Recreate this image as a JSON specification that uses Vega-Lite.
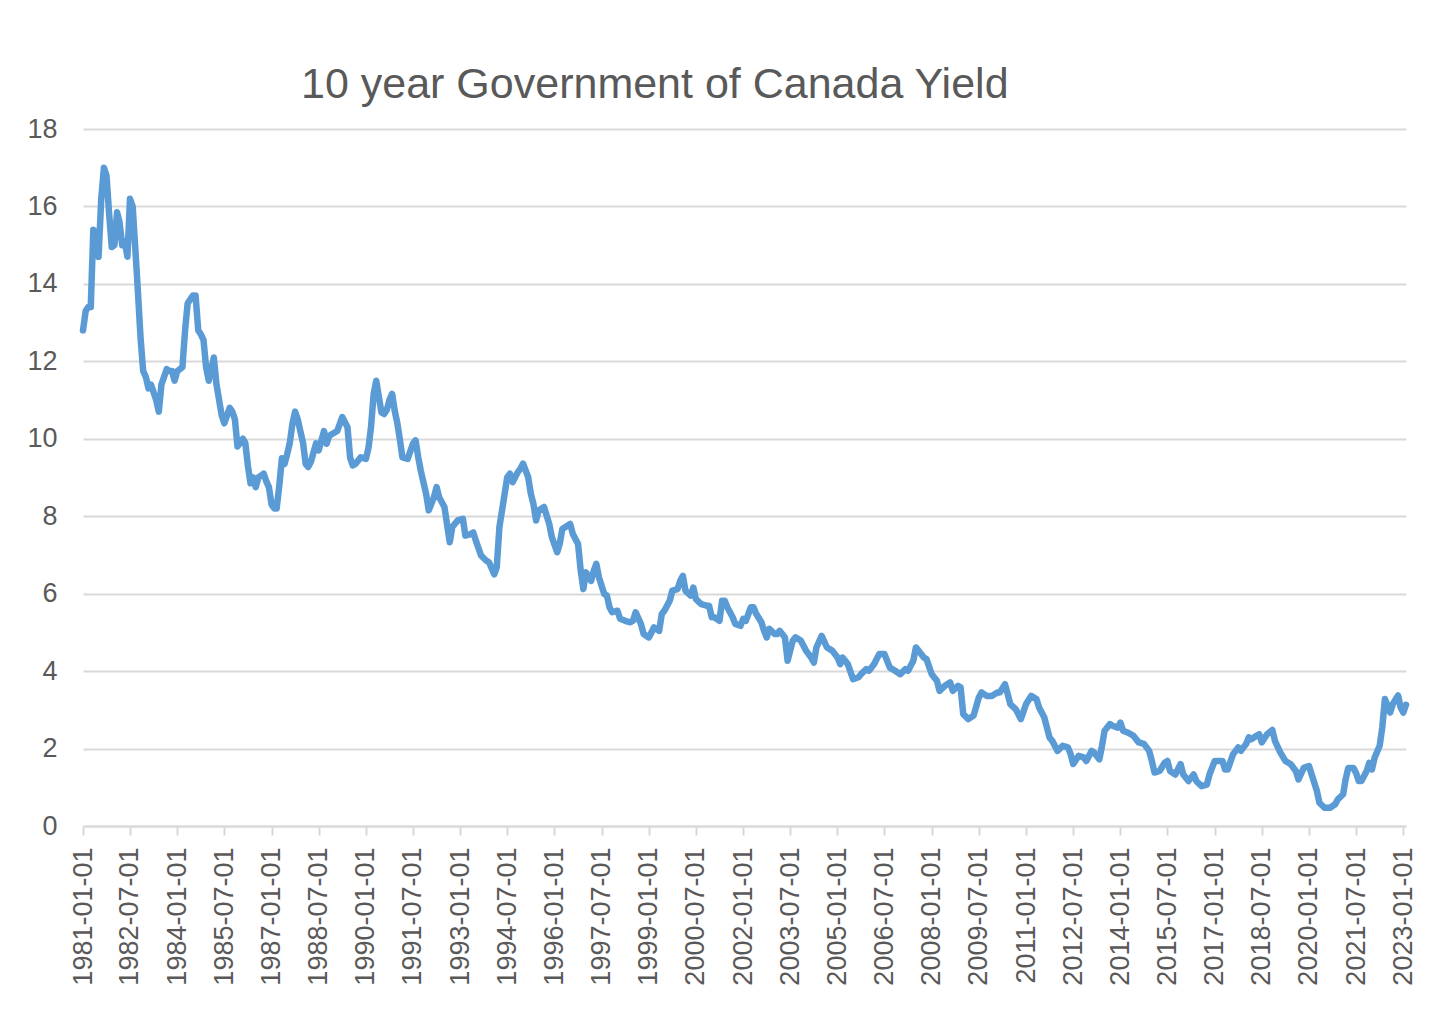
{
  "$schema": "https://vega.github.io/schema/vega-lite/v6.json",
  "width": 1323,
  "height": 697,
  "autosize": "none",
  "padding": {"left": 83, "top": 129, "right": 39, "bottom": 185},
  "background": "white",
  "title": {"text": "10 year Government of Canada Yield", "anchor": "start", "frame": "group", "dx": 218, "dy": 40, "offset": 14, "baseline": "alphabetic", "font": "Liberation Sans", "fontSize": 43, "fontWeight": "normal", "color": "#595959"},
  "config": {"view": {"stroke": null}, "font": "Liberation Sans"},
  "data": {"values": [
    {"d":"1981-01-01","v":12.8},{"d":"1981-02-01","v":13.3},{"d":"1981-03-01","v":13.4},{"d":"1981-04-01","v":13.4},{"d":"1981-05-01","v":15.4},{"d":"1981-06-01","v":15.3},{"d":"1981-07-01","v":14.7},{"d":"1981-08-01","v":16.2},{"d":"1981-09-01","v":17.0},{"d":"1981-10-01","v":16.8},{"d":"1981-11-01","v":15.8},{"d":"1981-12-01","v":14.95},
    {"d":"1982-01-01","v":15.0},{"d":"1982-02-01","v":15.85},{"d":"1982-03-01","v":15.6},{"d":"1982-04-01","v":15.0},{"d":"1982-05-01","v":15.1},{"d":"1982-06-01","v":14.7},{"d":"1982-07-01","v":16.2},{"d":"1982-08-01","v":16.0},{"d":"1982-09-01","v":14.9},{"d":"1982-10-01","v":13.8},{"d":"1982-11-01","v":12.6},{"d":"1982-12-01","v":11.75},
    {"d":"1983-01-01","v":11.6},{"d":"1983-02-01","v":11.3},{"d":"1983-03-01","v":11.4},{"d":"1983-04-01","v":11.2},{"d":"1983-05-01","v":11.0},{"d":"1983-06-01","v":10.7},{"d":"1983-07-01","v":11.4},{"d":"1983-08-01","v":11.6},{"d":"1983-09-01","v":11.8},{"d":"1983-10-01","v":11.75},{"d":"1983-11-01","v":11.75},{"d":"1983-12-01","v":11.5},
    {"d":"1984-01-01","v":11.75},{"d":"1984-02-01","v":11.8},{"d":"1984-03-01","v":11.85},{"d":"1984-04-01","v":12.8},{"d":"1984-05-01","v":13.5},{"d":"1984-06-01","v":13.6},{"d":"1984-07-01","v":13.7},{"d":"1984-08-01","v":13.7},{"d":"1984-09-01","v":12.8},{"d":"1984-10-01","v":12.7},{"d":"1984-11-01","v":12.55},{"d":"1984-12-01","v":11.85},
    {"d":"1985-01-01","v":11.5},{"d":"1985-02-01","v":11.8},{"d":"1985-03-01","v":12.1},{"d":"1985-04-01","v":11.4},{"d":"1985-05-01","v":11.0},{"d":"1985-06-01","v":10.6},{"d":"1985-07-01","v":10.4},{"d":"1985-08-01","v":10.6},{"d":"1985-09-01","v":10.8},{"d":"1985-10-01","v":10.7},{"d":"1985-11-01","v":10.5},{"d":"1985-12-01","v":9.8},
    {"d":"1986-01-01","v":9.9},{"d":"1986-02-01","v":10.0},{"d":"1986-03-01","v":9.9},{"d":"1986-04-01","v":9.3},{"d":"1986-05-01","v":8.85},{"d":"1986-06-01","v":9.0},{"d":"1986-07-01","v":8.75},{"d":"1986-08-01","v":9.0},{"d":"1986-09-01","v":9.05},{"d":"1986-10-01","v":9.1},{"d":"1986-11-01","v":8.9},{"d":"1986-12-01","v":8.75},
    {"d":"1987-01-01","v":8.3},{"d":"1987-02-01","v":8.2},{"d":"1987-03-01","v":8.2},{"d":"1987-04-01","v":8.8},{"d":"1987-05-01","v":9.5},{"d":"1987-06-01","v":9.35},{"d":"1987-07-01","v":9.6},{"d":"1987-08-01","v":9.9},{"d":"1987-09-01","v":10.4},{"d":"1987-10-01","v":10.7},{"d":"1987-11-01","v":10.5},{"d":"1987-12-01","v":10.2},
    {"d":"1988-01-01","v":9.9},{"d":"1988-02-01","v":9.35},{"d":"1988-03-01","v":9.27},{"d":"1988-04-01","v":9.4},{"d":"1988-06-01","v":9.88},{"d":"1988-07-01","v":9.7},{"d":"1988-09-01","v":10.2},{"d":"1988-10-01","v":9.87},{"d":"1988-11-01","v":10.08},
    {"d":"1989-02-01","v":10.2},{"d":"1989-04-01","v":10.56},{"d":"1989-06-01","v":10.3},{"d":"1989-07-01","v":9.52},{"d":"1989-08-01","v":9.31},{"d":"1989-09-01","v":9.35},{"d":"1989-11-01","v":9.52},
    {"d":"1990-01-01","v":9.48},{"d":"1990-02-01","v":9.78},{"d":"1990-03-01","v":10.3},{"d":"1990-04-01","v":11.16},{"d":"1990-05-01","v":11.5},{"d":"1990-06-01","v":11.07},{"d":"1990-07-01","v":10.68},{"d":"1990-08-01","v":10.64},{"d":"1990-09-01","v":10.75},{"d":"1990-10-01","v":11.0},{"d":"1990-11-01","v":11.16},{"d":"1990-12-01","v":10.73},
    {"d":"1991-01-01","v":10.4},{"d":"1991-02-01","v":9.96},{"d":"1991-03-01","v":9.52},{"d":"1991-05-01","v":9.48},{"d":"1991-07-01","v":9.87},{"d":"1991-08-01","v":9.96},{"d":"1991-09-01","v":9.52},{"d":"1991-10-01","v":9.17},{"d":"1991-12-01","v":8.58},
    {"d":"1992-01-01","v":8.15},{"d":"1992-03-01","v":8.49},{"d":"1992-04-01","v":8.75},{"d":"1992-05-01","v":8.49},{"d":"1992-07-01","v":8.24},{"d":"1992-09-01","v":7.33},{"d":"1992-10-01","v":7.72},{"d":"1992-12-01","v":7.89},
    {"d":"1993-02-01","v":7.93},{"d":"1993-03-01","v":7.5},{"d":"1993-05-01","v":7.54},{"d":"1993-06-01","v":7.58},{"d":"1993-07-01","v":7.37},{"d":"1993-09-01","v":6.98},{"d":"1993-11-01","v":6.85},{"d":"1993-12-01","v":6.81},
    {"d":"1994-02-01","v":6.5},{"d":"1994-03-01","v":6.68},{"d":"1994-04-01","v":7.72},{"d":"1994-06-01","v":8.58},{"d":"1994-07-01","v":9.01},{"d":"1994-08-01","v":9.1},{"d":"1994-09-01","v":8.88},{"d":"1994-11-01","v":9.14},{"d":"1994-12-01","v":9.23},
    {"d":"1995-01-01","v":9.36},{"d":"1995-03-01","v":9.01},{"d":"1995-04-01","v":8.58},{"d":"1995-05-01","v":8.32},{"d":"1995-06-01","v":7.89},{"d":"1995-07-01","v":8.15},{"d":"1995-09-01","v":8.24},{"d":"1995-11-01","v":7.8},{"d":"1995-12-01","v":7.46},
    {"d":"1996-02-01","v":7.07},{"d":"1996-03-01","v":7.28},{"d":"1996-04-01","v":7.67},{"d":"1996-07-01","v":7.8},{"d":"1996-08-01","v":7.54},{"d":"1996-10-01","v":7.28},{"d":"1996-11-01","v":6.59},{"d":"1996-12-01","v":6.12},
    {"d":"1997-01-01","v":6.55},{"d":"1997-03-01","v":6.33},{"d":"1997-04-01","v":6.59},{"d":"1997-05-01","v":6.77},{"d":"1997-06-01","v":6.42},{"d":"1997-08-01","v":5.99},{"d":"1997-09-01","v":5.95},{"d":"1997-10-01","v":5.65},{"d":"1997-11-01","v":5.52},
    {"d":"1998-01-01","v":5.56},{"d":"1998-02-01","v":5.35},{"d":"1998-04-01","v":5.3},{"d":"1998-06-01","v":5.26},{"d":"1998-07-01","v":5.3},{"d":"1998-08-01","v":5.52},{"d":"1998-10-01","v":5.22},{"d":"1998-11-01","v":4.96},
    {"d":"1999-01-01","v":4.87},{"d":"1999-02-01","v":5.0},{"d":"1999-03-01","v":5.13},{"d":"1999-05-01","v":5.04},{"d":"1999-06-01","v":5.48},{"d":"1999-07-01","v":5.56},{"d":"1999-09-01","v":5.82},{"d":"1999-10-01","v":6.08},{"d":"1999-12-01","v":6.12},
    {"d":"2000-01-01","v":6.33},{"d":"2000-02-01","v":6.46},{"d":"2000-03-01","v":6.08},{"d":"2000-05-01","v":5.95},{"d":"2000-06-01","v":6.16},{"d":"2000-07-01","v":5.86},{"d":"2000-09-01","v":5.73},{"d":"2000-11-01","v":5.69},{"d":"2000-12-01","v":5.69},
    {"d":"2001-01-01","v":5.39},{"d":"2001-02-01","v":5.39},{"d":"2001-04-01","v":5.3},{"d":"2001-05-01","v":5.82},{"d":"2001-06-01","v":5.82},{"d":"2001-07-01","v":5.65},{"d":"2001-09-01","v":5.39},{"d":"2001-10-01","v":5.22},{"d":"2001-12-01","v":5.17},
    {"d":"2002-01-01","v":5.35},{"d":"2002-02-01","v":5.3},{"d":"2002-04-01","v":5.65},{"d":"2002-05-01","v":5.65},{"d":"2002-06-01","v":5.48},{"d":"2002-08-01","v":5.26},{"d":"2002-09-01","v":5.04},{"d":"2002-10-01","v":4.87},{"d":"2002-11-01","v":5.09},
    {"d":"2003-01-01","v":4.96},{"d":"2003-02-01","v":4.96},{"d":"2003-03-01","v":5.04},{"d":"2003-05-01","v":4.87},{"d":"2003-06-01","v":4.27},{"d":"2003-08-01","v":4.79},{"d":"2003-09-01","v":4.87},{"d":"2003-11-01","v":4.79},
    {"d":"2004-01-01","v":4.53},{"d":"2004-03-01","v":4.35},{"d":"2004-04-01","v":4.22},{"d":"2004-05-01","v":4.61},{"d":"2004-07-01","v":4.91},{"d":"2004-09-01","v":4.61},{"d":"2004-11-01","v":4.53},
    {"d":"2005-01-01","v":4.35},{"d":"2005-02-01","v":4.18},{"d":"2005-03-01","v":4.35},{"d":"2005-05-01","v":4.18},{"d":"2005-07-01","v":3.79},{"d":"2005-09-01","v":3.84},{"d":"2005-10-01","v":3.92},{"d":"2005-12-01","v":4.05},
    {"d":"2006-01-01","v":4.01},{"d":"2006-03-01","v":4.18},{"d":"2006-05-01","v":4.44},{"d":"2006-07-01","v":4.44},{"d":"2006-09-01","v":4.09},{"d":"2006-11-01","v":4.01},
    {"d":"2007-01-01","v":3.92},{"d":"2007-03-01","v":4.05},{"d":"2007-04-01","v":4.01},{"d":"2007-06-01","v":4.27},{"d":"2007-07-01","v":4.61},{"d":"2007-08-01","v":4.53},{"d":"2007-10-01","v":4.35},{"d":"2007-11-01","v":4.31},
    {"d":"2008-01-01","v":3.92},{"d":"2008-03-01","v":3.75},{"d":"2008-04-01","v":3.49},{"d":"2008-06-01","v":3.62},{"d":"2008-08-01","v":3.71},{"d":"2008-09-01","v":3.49},{"d":"2008-11-01","v":3.62},{"d":"2008-12-01","v":3.58},
    {"d":"2009-01-01","v":2.89},{"d":"2009-03-01","v":2.76},{"d":"2009-05-01","v":2.85},{"d":"2009-07-01","v":3.32},{"d":"2009-08-01","v":3.45},{"d":"2009-10-01","v":3.36},{"d":"2009-12-01","v":3.36},
    {"d":"2010-02-01","v":3.45},{"d":"2010-03-01","v":3.45},{"d":"2010-05-01","v":3.66},{"d":"2010-06-01","v":3.41},{"d":"2010-07-01","v":3.15},{"d":"2010-09-01","v":3.02},{"d":"2010-10-01","v":2.9},{"d":"2010-11-01","v":2.76},
    {"d":"2011-01-01","v":3.15},{"d":"2011-03-01","v":3.36},{"d":"2011-05-01","v":3.28},{"d":"2011-06-01","v":3.06},{"d":"2011-08-01","v":2.8},{"d":"2011-10-01","v":2.28},{"d":"2011-11-01","v":2.2},
    {"d":"2012-01-01","v":1.94},{"d":"2012-03-01","v":2.07},{"d":"2012-05-01","v":2.03},{"d":"2012-06-01","v":1.86},{"d":"2012-07-01","v":1.6},{"d":"2012-09-01","v":1.81},{"d":"2012-11-01","v":1.77},{"d":"2012-12-01","v":1.68},
    {"d":"2013-02-01","v":1.94},{"d":"2013-03-01","v":1.9},{"d":"2013-05-01","v":1.72},{"d":"2013-06-01","v":2.07},{"d":"2013-07-01","v":2.46},{"d":"2013-09-01","v":2.63},{"d":"2013-10-01","v":2.59},{"d":"2013-12-01","v":2.54},
    {"d":"2014-01-01","v":2.67},{"d":"2014-02-01","v":2.46},{"d":"2014-04-01","v":2.41},{"d":"2014-06-01","v":2.33},{"d":"2014-08-01","v":2.16},{"d":"2014-10-01","v":2.12},{"d":"2014-12-01","v":1.94},
    {"d":"2015-01-01","v":1.68},{"d":"2015-02-01","v":1.38},{"d":"2015-04-01","v":1.42},{"d":"2015-06-01","v":1.64},{"d":"2015-07-01","v":1.68},{"d":"2015-08-01","v":1.42},{"d":"2015-10-01","v":1.33},{"d":"2015-12-01","v":1.6},
    {"d":"2016-01-01","v":1.33},{"d":"2016-03-01","v":1.16},{"d":"2016-05-01","v":1.33},{"d":"2016-06-01","v":1.16},{"d":"2016-08-01","v":1.03},{"d":"2016-10-01","v":1.07},{"d":"2016-11-01","v":1.33},
    {"d":"2017-01-01","v":1.68},{"d":"2017-03-01","v":1.68},{"d":"2017-04-01","v":1.68},{"d":"2017-05-01","v":1.46},{"d":"2017-06-01","v":1.46},{"d":"2017-08-01","v":1.85},{"d":"2017-10-01","v":2.03},{"d":"2017-11-01","v":1.94},
    {"d":"2018-01-01","v":2.12},{"d":"2018-02-01","v":2.29},{"d":"2018-03-01","v":2.24},{"d":"2018-05-01","v":2.33},{"d":"2018-06-01","v":2.37},{"d":"2018-07-01","v":2.16},{"d":"2018-09-01","v":2.37},{"d":"2018-11-01","v":2.48},{"d":"2018-12-01","v":2.2},
    {"d":"2019-02-01","v":1.9},{"d":"2019-04-01","v":1.68},{"d":"2019-06-01","v":1.6},{"d":"2019-08-01","v":1.42},{"d":"2019-09-01","v":1.2},{"d":"2019-11-01","v":1.5},
    {"d":"2020-01-01","v":1.55},{"d":"2020-02-01","v":1.33},{"d":"2020-04-01","v":0.91},{"d":"2020-05-01","v":0.6},{"d":"2020-07-01","v":0.47},{"d":"2020-09-01","v":0.47},{"d":"2020-11-01","v":0.56},{"d":"2020-12-01","v":0.69},
    {"d":"2021-02-01","v":0.82},{"d":"2021-03-01","v":1.2},{"d":"2021-04-01","v":1.5},{"d":"2021-06-01","v":1.5},{"d":"2021-07-01","v":1.37},{"d":"2021-08-01","v":1.16},{"d":"2021-09-01","v":1.16},{"d":"2021-11-01","v":1.42},{"d":"2021-12-01","v":1.63},
    {"d":"2022-01-01","v":1.46},{"d":"2022-02-01","v":1.76},{"d":"2022-04-01","v":2.07},{"d":"2022-05-01","v":2.54},{"d":"2022-06-01","v":3.28},{"d":"2022-07-01","v":3.1},{"d":"2022-08-01","v":2.93},{"d":"2022-09-01","v":3.15},{"d":"2022-11-01","v":3.37},{"d":"2022-12-01","v":3.06},
    {"d":"2023-01-01","v":2.93},{"d":"2023-02-01","v":3.13}
  ]},
  "mark": {"type": "line", "color": "#5b9bd5", "strokeWidth": 6.5, "strokeJoin": "round", "strokeCap": "round"},
  "encoding": {
    "x": {
      "field": "d", "type": "temporal",
      "scale": {"type": "utc", "domain": [{"year": 1981, "month": 1, "date": 1, "utc": true}, {"year": 2023, "month": 2, "date": 1, "utc": true}]},
      "axis": {
        "title": null,
        "values": [
          {"year":1981,"month":1,"date":1,"utc":true},{"year":1982,"month":7,"date":1,"utc":true},{"year":1984,"month":1,"date":1,"utc":true},{"year":1985,"month":7,"date":1,"utc":true},{"year":1987,"month":1,"date":1,"utc":true},{"year":1988,"month":7,"date":1,"utc":true},{"year":1990,"month":1,"date":1,"utc":true},{"year":1991,"month":7,"date":1,"utc":true},{"year":1993,"month":1,"date":1,"utc":true},{"year":1994,"month":7,"date":1,"utc":true},{"year":1996,"month":1,"date":1,"utc":true},{"year":1997,"month":7,"date":1,"utc":true},{"year":1999,"month":1,"date":1,"utc":true},{"year":2000,"month":7,"date":1,"utc":true},{"year":2002,"month":1,"date":1,"utc":true},{"year":2003,"month":7,"date":1,"utc":true},{"year":2005,"month":1,"date":1,"utc":true},{"year":2006,"month":7,"date":1,"utc":true},{"year":2008,"month":1,"date":1,"utc":true},{"year":2009,"month":7,"date":1,"utc":true},{"year":2011,"month":1,"date":1,"utc":true},{"year":2012,"month":7,"date":1,"utc":true},{"year":2014,"month":1,"date":1,"utc":true},{"year":2015,"month":7,"date":1,"utc":true},{"year":2017,"month":1,"date":1,"utc":true},{"year":2018,"month":7,"date":1,"utc":true},{"year":2020,"month":1,"date":1,"utc":true},{"year":2021,"month":7,"date":1,"utc":true},{"year":2023,"month":1,"date":1,"utc":true}
        ],
        "labelExpr": "utcFormat(datum.value, '%Y-%m-%d')",
        "labelAngle": -90, "labelAlign": "right", "labelBaseline": "middle",
        "labelFont": "Liberation Sans", "labelFontSize": 27, "labelColor": "#595959",
        "labelPadding": 12, "labelOverlap": false, "labelFlush": false, "labelBound": false,
        "tickSize": 9, "tickColor": "#d9d9d9", "tickWidth": 2,
        "domainColor": "#d9d9d9", "domainWidth": 2, "grid": false
      }
    },
    "y": {
      "field": "v", "type": "quantitative",
      "scale": {"domain": [0, 18], "nice": false, "zero": true},
      "axis": {
        "title": null, "values": [0, 2, 4, 6, 8, 10, 12, 14, 16, 18],
        "grid": true, "gridColor": "#d9d9d9", "gridWidth": 2,
        "domain": false, "ticks": false, "tickSize": 0,
        "labelPadding": 26, "labelFont": "Liberation Sans", "labelFontSize": 27, "labelColor": "#595959"
      }
    }
  }
}
